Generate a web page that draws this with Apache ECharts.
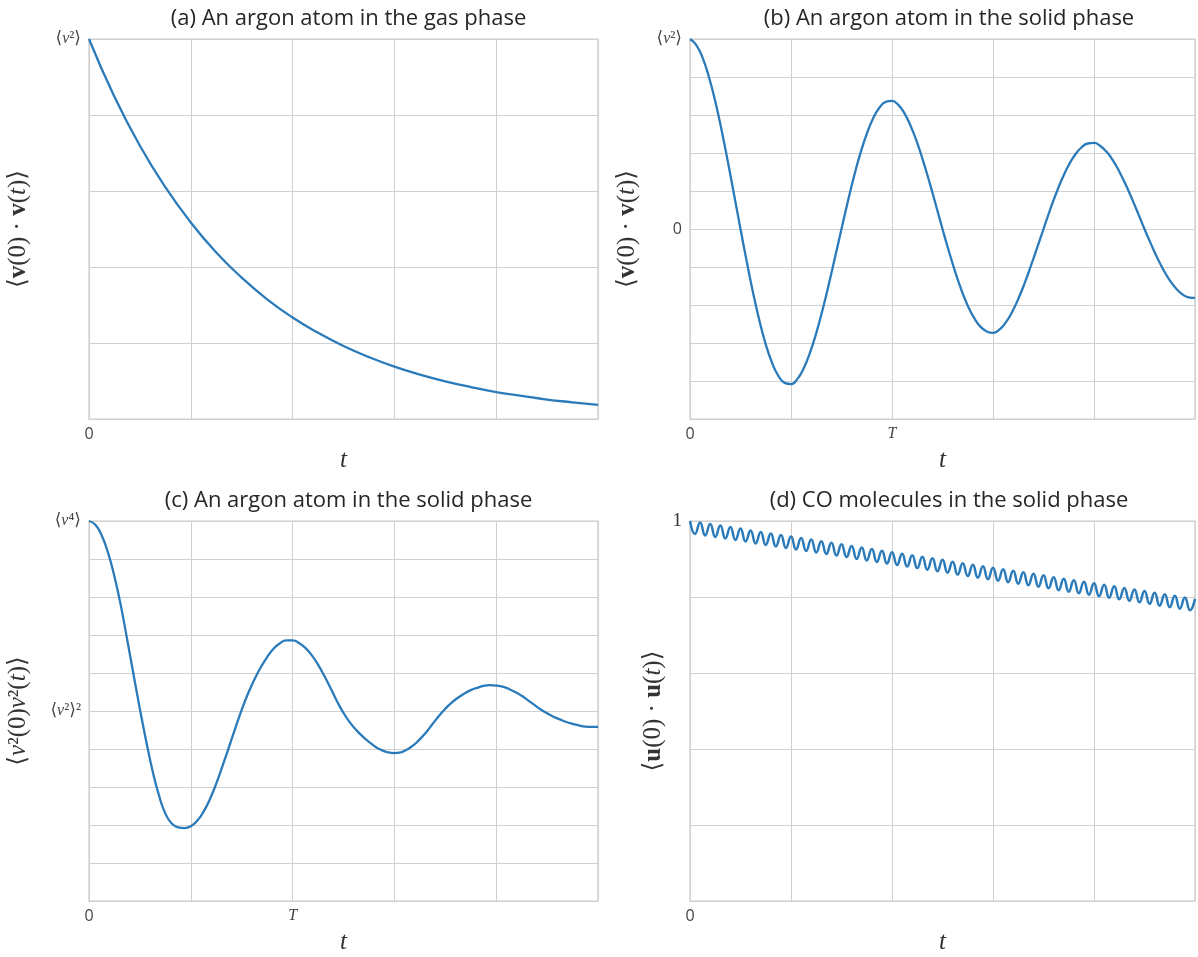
<!DOCTYPE html>
<html>
<head>
<meta charset="utf-8">
<script src="https://cdn.jsdelivr.net/npm/echarts@6/dist/echarts.min.js"></script>
<style>
  html, body { margin: 0; padding: 0; background: #fff; }
  #main { width: 1198px; height: 957px; }
</style>
</head>
<body>
<div id="main"></div>
<script>
// ── data (t in grid units, 1 unit = one vertical grid cell) ──
const gasStep = 0.25;
const solidStep = 0.0625;

// (a) gas phase, normalised to <v^2> = 1
const gasVacf = [1.000, 0.848, 0.719, 0.610, 0.517, 0.438, 0.372, 0.315, 0.267, 0.227, 0.192,
                 0.163, 0.138, 0.117, 0.099, 0.084, 0.071, 0.061, 0.051, 0.044, 0.037];

// (b) solid phase, normalised to <v^2> = 1
const solidVacf = [
  1.000, 0.968, 0.901, 0.800, 0.672, 0.521, 0.354, 0.178,
  0.000, -0.174, -0.337, -0.483, -0.607, -0.704, -0.773, -0.810,
  -0.816, -0.790, -0.734, -0.652, -0.548, -0.425, -0.289, -0.145,
  0.000, 0.144, 0.279, 0.399, 0.501, 0.582, 0.638, 0.669,
  0.674, 0.653, 0.607, 0.539, 0.453, 0.351, 0.239, 0.120,
  0.000, -0.116, -0.224, -0.321, -0.404, -0.468, -0.514, -0.539,
  -0.547, -0.530, -0.493, -0.438, -0.368, -0.286, -0.194, -0.098,
  0.000, 0.097, 0.187, 0.268, 0.337, 0.391, 0.429, 0.450,
  0.453, 0.437, 0.406, 0.361, 0.303, 0.235, 0.160, 0.081,
  0.000, -0.077, -0.150, -0.215, -0.270, -0.313, -0.344, -0.360,
  -0.363];

// (c) <v^2(0) v^2(t)>, in grid units (<v^4> = 10, <v^2>^2 = 5)
const solidV2 = [
  10.00, 9.90, 9.62, 9.16, 8.54, 7.78, 6.88, 5.96,
  5.05, 4.20, 3.42, 2.78, 2.30, 2.04, 1.94, 1.92,
  1.97, 2.11, 2.35, 2.68, 3.09, 3.56, 4.05, 4.55,
  5.03, 5.46, 5.83, 6.15, 6.42, 6.64, 6.78, 6.86,
  6.86, 6.79, 6.66, 6.47, 6.22, 5.92, 5.59, 5.25,
  4.95, 4.70, 4.50, 4.33, 4.19, 4.06, 3.97, 3.91,
  3.89, 3.91, 3.99, 4.10, 4.26, 4.44, 4.66, 4.87,
  5.06, 5.22, 5.35, 5.46, 5.55, 5.61, 5.66, 5.68,
  5.67, 5.64, 5.58, 5.50, 5.40, 5.28, 5.16, 5.04,
  4.94, 4.85, 4.78, 4.71, 4.66, 4.62, 4.59, 4.58,
  4.58];

// (d) CO orientation, extrema of the fast libration (peak every 0.1, trough halfway)
const coStep = 0.05;
const coPeaks = [1.000, 0.996, 0.992, 0.988, 0.984, 0.980, 0.975, 0.971, 0.967, 0.963, 0.959,
                 0.955, 0.951, 0.947, 0.943, 0.939, 0.934, 0.930, 0.926, 0.922, 0.918,
                 0.914, 0.910, 0.906, 0.902, 0.898, 0.893, 0.889, 0.885, 0.881, 0.877,
                 0.873, 0.869, 0.865, 0.861, 0.857, 0.852, 0.848, 0.844, 0.840, 0.836,
                 0.832, 0.828, 0.824, 0.820, 0.816, 0.811, 0.807, 0.803, 0.799, 0.795];
const coTroughs = [0.966, 0.962, 0.958, 0.954, 0.950, 0.946, 0.941, 0.937, 0.933, 0.929,
                   0.925, 0.921, 0.917, 0.913, 0.909, 0.905, 0.900, 0.896, 0.892, 0.888,
                   0.884, 0.880, 0.876, 0.872, 0.868, 0.864, 0.859, 0.855, 0.851, 0.847,
                   0.843, 0.839, 0.835, 0.831, 0.827, 0.823, 0.818, 0.814, 0.810, 0.806,
                   0.802, 0.798, 0.794, 0.790, 0.786, 0.782, 0.777, 0.773, 0.769, 0.765];

const panelTitles = [
  '(a) An argon atom in the gas phase',
  '(b) An argon atom in the solid phase',
  '(c) An argon atom in the solid phase',
  '(d) CO molecules in the solid phase',
];

// ── helpers ──
const SERIF = "'Liberation Serif', 'DejaVu Serif', serif";
const SANS = "'Open Sans', Lato, 'DejaVu Sans', sans-serif";
const LINE = '#2b7bba';
const GRID_C = '#d0d0d0';

const toPairs = (vals, step) => vals.map((v, i) => [i * step, v]);
const near = (a, b) => Math.abs(a - b) < 1e-6;

function coPairs() {
  const out = [];
  coPeaks.forEach((p, i) => {
    out.push(p);
    if (i < coTroughs.length) out.push(coTroughs[i]);
  });
  return toPairs(out, coStep);
}

const mathRich = {
  m: { fontFamily: SERIF, fontSize: 25, color: '#333' },
  b: { fontFamily: SERIF, fontSize: 25, fontWeight: 'bold', color: '#333' },
  i: { fontFamily: SERIF, fontSize: 25, fontStyle: 'italic', color: '#333' },
};
const tickRich = {
  m: { fontFamily: SERIF, fontSize: 17, color: '#444' },
  n: { fontFamily: SERIF, fontSize: 19, color: '#333' },
  i: { fontFamily: SERIF, fontSize: 16, fontStyle: 'italic', color: '#444' },
  s: { fontFamily: SANS, fontSize: 16, color: '#444' },
};

const grids = [
  { left: 89, top: 39, width: 509, height: 380 },
  { left: 690, top: 39, width: 508, height: 380 },
  { left: 89, top: 521, width: 509, height: 380 },
  { left: 690, top: 521, width: 508, height: 380 },
];

function xAxisFor(idx, showT) {
  return {
    type: 'value', gridIndex: idx, min: 0, max: 5, interval: 1,
    name: '{i|t}', nameLocation: 'middle', nameGap: 29,
    nameTextStyle: { rich: mathRich },
    axisLine: { show: false }, axisTick: { show: false },
    splitLine: { lineStyle: { color: GRID_C, width: 1 } },
    axisLabel: {
      margin: 7, rich: tickRich,
      formatter: v => near(v, 0) ? '{s|0}' : (showT && near(v, 2) ? '{i|T}' : ''),
    },
  };
}

function yAxisFor(idx, opt) {
  return Object.assign({
    type: 'value', gridIndex: idx, nameLocation: 'middle',
    nameTextStyle: { rich: mathRich },
    axisLine: { show: false }, axisTick: { show: false },
    splitLine: { lineStyle: { color: GRID_C, width: 1 } },
  }, opt);
}

function lineSeries(idx, data, width) {
  return {
    type: 'line', xAxisIndex: idx, yAxisIndex: idx, data: data,
    showSymbol: false, smooth: true, animation: false,
    lineStyle: { color: LINE, width: width || 2.3 },
  };
}

const chart = echarts.init(document.getElementById('main'), null, { renderer: 'canvas' });

chart.setOption({
  backgroundColor: '#fff',
  title: panelTitles.map((text, i) => ({
    text: text,
    left: grids[i].left + grids[i].width / 2,
    top: i < 2 ? 3 : 485,
    textAlign: 'center',
    textStyle: { fontFamily: SANS, fontSize: 22, fontWeight: 'normal', color: '#262626' },
  })),
  grid: grids.map(g => Object.assign({ show: true, borderColor: '#cccccc', borderWidth: 1.25 }, g)),
  xAxis: [xAxisFor(0, false), xAxisFor(1, true), xAxisFor(2, true), xAxisFor(3, false)],
  yAxis: [
    yAxisFor(0, {
      min: 0, max: 1, interval: 0.2, nameGap: 58,
      name: '{m|⟨}{b|v}{m|(0) · }{b|v}{m|(}{i|t}{m|)⟩}',
      axisLabel: { rich: tickRich, formatter: v => near(v, 1) ? '{m|⟨}{i|v}{m|²⟩}' : '' },
    }),
    yAxisFor(1, {
      min: -1, max: 1, interval: 0.2, nameGap: 50,
      name: '{m|⟨}{b|v}{m|(0) · }{b|v}{m|(}{i|t}{m|)⟩}',
      axisLabel: {
        rich: tickRich,
        formatter: v => near(v, 1) ? '{m|⟨}{i|v}{m|²⟩}' : (near(v, 0) ? '{s|0}' : ''),
      },
    }),
    yAxisFor(2, {
      min: 0, max: 10, interval: 1, nameGap: 58,
      name: '{m|⟨}{i|v}{m|²(0)}{i|v}{m|²(}{i|t}{m|)⟩}',
      axisLabel: {
        rich: tickRich,
        formatter: v => near(v, 10) ? '{m|⟨}{i|v}{m|⁴⟩}' : (near(v, 5) ? '{m|⟨}{i|v}{m|²⟩²}' : ''),
      },
    }),
    yAxisFor(3, {
      min: 0, max: 1, interval: 0.2, nameGap: 24,
      name: '{m|⟨}{b|u}{m|(0) · }{b|u}{m|(}{i|t}{m|)⟩}',
      axisLabel: { rich: tickRich, formatter: v => near(v, 1) ? '{n|1}' : '' },
    }),
  ],
  series: [
    lineSeries(0, toPairs(gasVacf, gasStep)),
    lineSeries(1, toPairs(solidVacf, solidStep)),
    lineSeries(2, toPairs(solidV2, solidStep)),
    lineSeries(3, coPairs(), 2.5),
  ],
});

window.addEventListener('resize', () => chart.resize());
</script>
</body>
</html>
